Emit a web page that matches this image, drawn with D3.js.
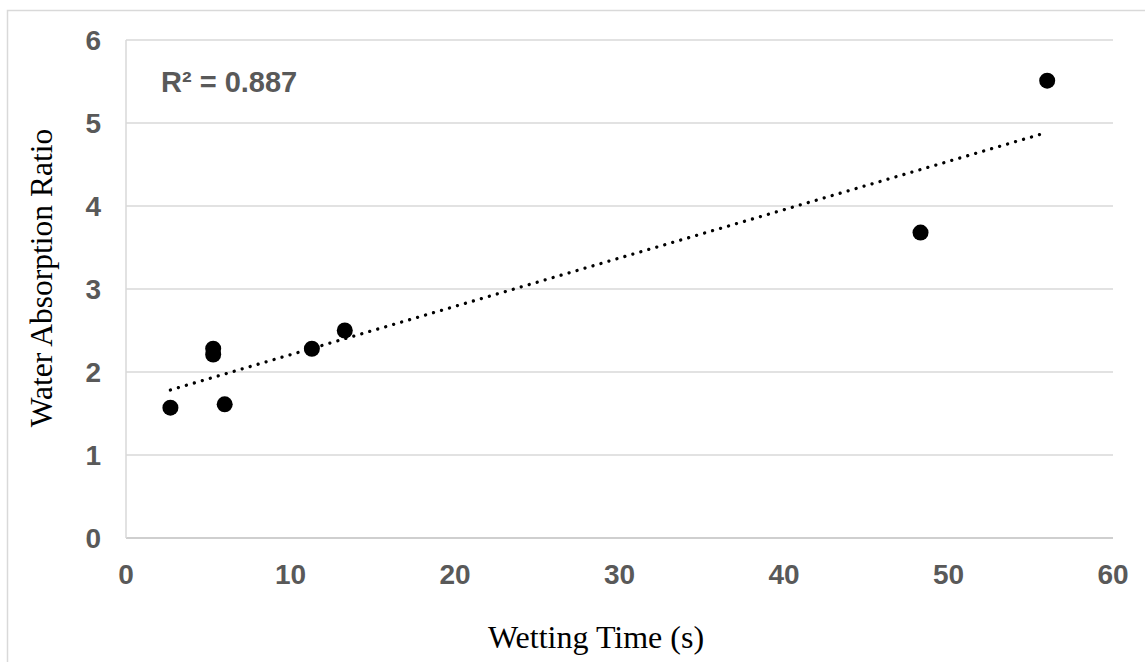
<!DOCTYPE html>
<html>
<head>
<meta charset="utf-8">
<script src="https://cdn.jsdelivr.net/npm/d3@7.9.0/dist/d3.min.js"></script>
<style>
  body { margin: 0; background: #fff; }
  svg { display: block; }
</style>
</head>
<body>
<svg id="chart" width="1145" height="662"></svg>
<script>
// Data
const wettingTime = [2.7, 5.3, 5.3, 6.0, 11.3, 13.3, 48.3, 56.0];
const absorptionRatio = [1.57, 2.28, 2.21, 1.61, 2.28, 2.50, 3.68, 5.51];
const xTicks = [0, 10, 20, 30, 40, 50, 60];
const yTicks = [0, 1, 2, 3, 4, 5, 6];
const r2Label = 'R² = 0.887';

const svg = d3.select('#chart');

// Plot area
const plotLeft = 126, plotRight = 1113, plotTop = 40, plotBottom = 538;

const x = d3.scaleLinear().domain([0, 60]).range([plotLeft, plotRight]);
const y = d3.scaleLinear().domain([0, 6]).range([plotBottom, plotTop]);

// Outer chart border
svg.append('rect')
    .attr('x', 7.5).attr('y', 10.5)
    .attr('width', 1160).attr('height', 680)
    .attr('fill', 'none')
    .attr('stroke', '#d9d9d9')
    .attr('stroke-width', 1.5);

// Horizontal gridlines
svg.append('g')
    .selectAll('line')
    .data(yTicks.filter((d) => d > 0))
    .join('line')
    .attr('x1', plotLeft).attr('x2', plotRight)
    .attr('y1', (d) => y(d)).attr('y2', (d) => y(d))
    .attr('stroke', '#d9d9d9')
    .attr('stroke-width', 1.5);

// Axis lines
svg.append('line')
    .attr('x1', plotLeft).attr('x2', plotRight)
    .attr('y1', plotBottom).attr('y2', plotBottom)
    .attr('stroke', '#bfbfbf').attr('stroke-width', 1.5);
svg.append('line')
    .attr('x1', plotLeft).attr('x2', plotLeft)
    .attr('y1', plotTop).attr('y2', plotBottom)
    .attr('stroke', '#d9d9d9').attr('stroke-width', 1.5);

// Tick labels
svg.append('g')
    .selectAll('text')
    .data(xTicks)
    .join('text')
    .attr('x', (d) => x(d))
    .attr('y', 584)
    .attr('text-anchor', 'middle')
    .attr('font-family', 'Liberation Sans, Arial, sans-serif')
    .attr('font-weight', 'bold')
    .attr('font-size', 28)
    .attr('fill', '#595959')
    .text((d) => d);

svg.append('g')
    .selectAll('text')
    .data(yTicks)
    .join('text')
    .attr('x', 101)
    .attr('y', (d) => y(d) + 10)
    .attr('text-anchor', 'end')
    .attr('font-family', 'Liberation Sans, Arial, sans-serif')
    .attr('font-weight', 'bold')
    .attr('font-size', 28)
    .attr('fill', '#595959')
    .text((d) => d);

// Linear trendline (least squares)
const n = wettingTime.length;
const mx = d3.mean(wettingTime), my = d3.mean(absorptionRatio);
let sxy = 0, sxx = 0;
for (let i = 0; i < n; i++) {
    sxy += (wettingTime[i] - mx) * (absorptionRatio[i] - my);
    sxx += (wettingTime[i] - mx) ** 2;
}
const slope = sxy / sxx;
const intercept = my - slope * mx;
const [x0, x1] = d3.extent(wettingTime);

svg.append('line')
    .attr('x1', x(x0)).attr('y1', y(intercept + slope * x0))
    .attr('x2', x(x1)).attr('y2', y(intercept + slope * x1))
    .attr('stroke', '#000')
    .attr('stroke-width', 3.3)
    .attr('stroke-linecap', 'round')
    .attr('stroke-dasharray', '0.01 8.3');

// Points
svg.append('g')
    .selectAll('circle')
    .data(wettingTime.map((d, i) => [d, absorptionRatio[i]]))
    .join('circle')
    .attr('cx', (d) => x(d[0]))
    .attr('cy', (d) => y(d[1]))
    .attr('r', 8)
    .attr('fill', '#000');

// R² label
svg.append('text')
    .attr('x', 161)
    .attr('y', 92)
    .attr('font-family', 'Liberation Sans, Arial, sans-serif')
    .attr('font-weight', 'bold')
    .attr('font-size', 29)
    .attr('fill', '#595959')
    .text(r2Label);

// Axis titles
svg.append('text')
    .attr('x', 596)
    .attr('y', 648)
    .attr('text-anchor', 'middle')
    .attr('font-family', 'Liberation Serif, Times New Roman, serif')
    .attr('font-size', 32)
    .attr('fill', '#000')
    .text('Wetting Time (s)');

svg.append('text')
    .attr('transform', 'translate(52,278) rotate(-90)')
    .attr('text-anchor', 'middle')
    .attr('font-family', 'Liberation Serif, Times New Roman, serif')
    .attr('font-size', 31.5)
    .attr('fill', '#000')
    .text('Water Absorption Ratio');
</script>
</body>
</html>
